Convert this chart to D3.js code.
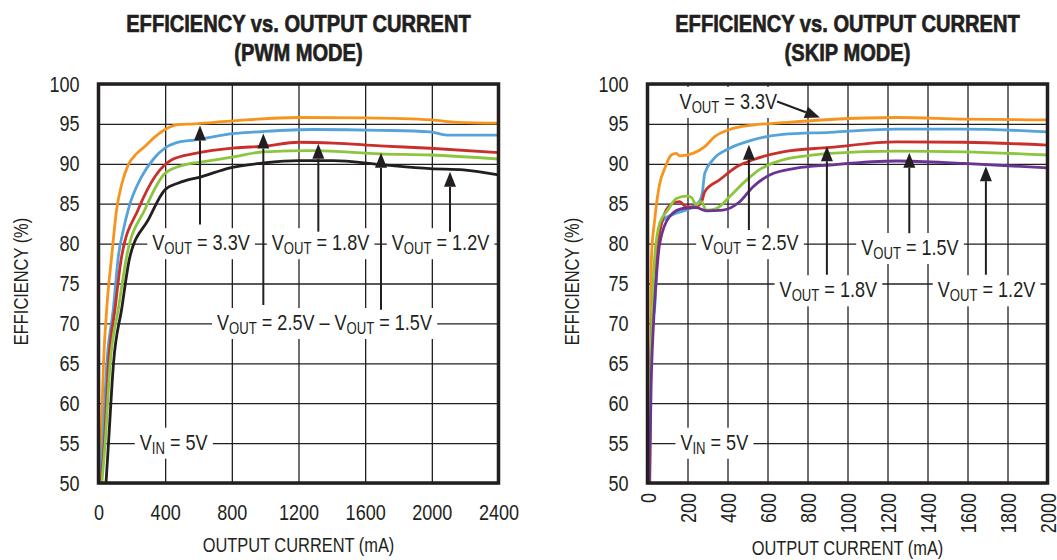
<!DOCTYPE html>
<html>
<head>
<meta charset="utf-8">
<script src="https://cdn.jsdelivr.net/npm/d3@7"></script>
<style>
body{margin:0;background:#fff;}
svg text{font-family:"Liberation Sans",Arial,Helvetica,sans-serif;fill:#231f20;}
.title{font-weight:bold;font-size:24.5px;stroke:#231f20;stroke-width:0.7px;}
.tick text{font-size:22px;}
.axis-title{font-size:20px;}
.tick line{stroke:#231f20;stroke-width:1.3;}
</style>
</head>
<body>
<svg id="chart" width="1057" height="560"></svg>
<script>
// ---- data: [output current mA, efficiency %] ----
var effTicks=[50,55,60,65,70,75,80,85,90,95,100];
var pwmTicks=[0,400,800,1200,1600,2000,2400];
var skipTicks=[0,200,400,600,800,1000,1200,1400,1600,1800,2000];

// PWM mode
var pwm33=[[5,50],[15,55],[30,65],[50,72],[79,78.4],[109,84.3],[140,87.5],[179,89.9],[230,91.3],[279,92.2],[340,93.4],[399,94.3],[477,94.9],[580,95.0],[700,95.2],[890,95.5],[1200,95.8],[1600,95.75],[2000,95.5],[2150,95.2],[2400,95.1]];
var pwm25=[[10,50],[25,55],[50,65],[89,71.8],[119,78.4],[150,81.8],[179,84.3],[259,88.4],[330,90.6],[400,92.0],[460,92.6],[580,93.0],[820,93.8],[990,94.05],[1290,94.3],[1690,94.2],[1990,94.0],[2090,93.6],[2400,93.6]];
var pwm18=[[15,50],[35,55],[60,65],[99,71.8],[139,78.4],[239,84.3],[339,88.4],[440,90.5],[580,91.3],[820,92.0],[990,92.2],[1200,92.7],[1410,92.6],[1690,92.25],[1990,91.95],[2400,91.4]];
var pwm15=[[20,50],[40,55],[70,65],[119,71.8],[169,78.4],[279,84.3],[399,88.8],[520,89.9],[640,90.3],[820,90.9],[990,91.5],[1290,91.65],[1690,91.25],[1990,91.1],[2400,90.6]];
var pwm12=[[45,50],[60,55],[90,65],[139,71.8],[189,78.4],[299,83.0],[399,86.75],[480,87.6],[620,88.4],[790,89.5],[990,90.1],[1200,90.4],[1410,90.4],[1690,89.9],[1990,89.4],[2190,89.25],[2400,88.6]];

// Skip mode
var skip33=[[12,50],[15,60],[17,70],[19,77.9],[36,83.0],[61,87.5],[86,89.4],[119,91.1],[144,91.3],[161,91.0],[227,91.3],[286,92.15],[336,93.4],[411,94.3],[527,94.85],[677,95.15],[912,95.55],[1246,95.8],[1579,95.6],[2000,95.5]];
var skip25=[[8,50],[15,62],[25,70],[36,72],[52,80.0],[78,82.95],[144,83.8],[211,84.4],[260,85.3],[275,86.5],[286,88.8],[327,90.5],[411,91.95],[527,93.0],[677,93.7],[912,93.95],[1246,94.35],[1579,94.35],[2000,94.0]];
var skip18=[[8,50],[14,62],[22,70],[35,76],[52,80.0],[86,83.8],[127,85.05],[161,85.25],[194,84.6],[240,84.6],[270,85.2],[286,86.5],[361,88.0],[444,89.6],[527,90.5],[677,91.5],[912,92.05],[1246,92.75],[1579,92.7],[2000,92.35]];
var skip15=[[8,50],[14,62],[22,70],[35,78],[61,82.55],[102,84.2],[144,85.65],[194,85.95],[219,85.8],[244,84.85],[269,85.25],[294,84.2],[344,84.4],[411,85.9],[477,87.55],[544,89.0],[677,90.5],[912,91.3],[1246,91.6],[1579,91.5],[2000,91.1]];
var skip12=[[10,50],[18,62],[30,70],[45,76],[61,80.0],[111,83.4],[177,84.4],[244,84.5],[294,84.1],[377,84.2],[461,85.25],[527,87.1],[611,88.6],[744,89.45],[912,89.85],[1246,90.35],[1579,90.05],[2000,89.5]];

var colors={v33:"#f7941d",v25:"#56a3d9",v18:"#c9302c",v15:"#8cc63f",v12:"#231f20",v12s:"#6b3394"};

var svg=d3.select("#chart");
var plotW=400, plotH=399, plotTop=84;
var narrow=0.82;   // datasheet uses a condensed face

// squeeze text horizontally to mimic the condensed font
function squeeze(sel){
    sel.each(function(){
        var w=this.getComputedTextLength();
        d3.select(this).attr("textLength",w*narrow).attr("lengthAdjust","spacingAndGlyphs");
    });
}

// white-boxed annotation text, V with subscript
function addLabel(g,cx,cy,parts){
    var lg=g.append("g");
    var t=lg.append("text")
        .attr("x",cx).attr("y",cy)
        .attr("dy","0.3em")
        .attr("text-anchor","middle")
        .style("font-size","22px");
    parts.forEach(function(p){
        t.append("tspan").text("V");
        t.append("tspan").attr("dy",4).style("font-size","16px").text(p[0]);
        t.append("tspan").attr("dy",-4).text(p[1]);
    });
    squeeze(t);
    var bb=t.node().getBBox();
    lg.insert("rect","text")
        .attr("x",bb.x-5).attr("y",bb.y-2)
        .attr("width",bb.width+10).attr("height",bb.height+4)
        .attr("fill","#fff");
}

function addArrow(g,x1,y1,x2,y2){
    var a=Math.atan2(y2-y1,x2-x1), L=15, W=6;
    var bx=x2-L*Math.cos(a), by=y2-L*Math.sin(a);
    g.append("line")
        .attr("x1",x1).attr("y1",y1).attr("x2",bx).attr("y2",by)
        .attr("stroke","#231f20").attr("stroke-width",2);
    g.append("path")
        .attr("d","M"+x2+","+y2+
            "L"+(bx+W*Math.sin(a))+","+(by-W*Math.cos(a))+
            "L"+(bx-W*Math.sin(a))+","+(by+W*Math.cos(a))+"Z")
        .attr("fill","#231f20");
}

function drawChart(opt){
    var g=svg.append("g").attr("transform","translate("+opt.left+","+plotTop+")");

    var x=d3.scaleLinear().domain([0,opt.xMax]).range([0,plotW]);
    var y=d3.scaleLinear().domain([50,100]).range([plotH,0]);

    // titles
    svg.append("text").attr("class","title")
        .attr("x",opt.left+plotW/2).attr("y",32)
        .attr("text-anchor","middle").text("EFFICIENCY vs. OUTPUT CURRENT");
    svg.append("text").attr("class","title")
        .attr("x",opt.left+plotW/2).attr("y",61)
        .attr("text-anchor","middle").text(opt.mode);

    // axes + grid
    var xAxis=g.append("g")
        .attr("transform","translate(0,"+plotH+")")
        .call(d3.axisBottom(x).tickValues(opt.xTicks).tickFormat(d3.format("d"))
            .tickSizeInner(-plotH).tickSizeOuter(0).tickPadding(21));
    xAxis.select(".domain").remove();
    if(opt.rotate){
        xAxis.selectAll("text")
            .attr("transform","rotate(-90)")
            .attr("text-anchor","end")
            .attr("x",-10).attr("y",0).attr("dy","0.36em");
    }
    var yAxis=g.append("g")
        .call(d3.axisLeft(y).tickValues(effTicks).tickFormat(d3.format("d"))
            .tickSizeInner(-plotW).tickSizeOuter(0).tickPadding(19));
    yAxis.select(".domain").remove();

    // axis titles
    g.append("text").attr("class","axis-title")
        .attr("x",plotW/2).attr("y",plotH+opt.xTitleDy)
        .attr("text-anchor","middle").text("OUTPUT CURRENT (mA)");
    g.append("text").attr("class","axis-title")
        .attr("transform","translate("+opt.yTitleX+","+(plotH/2-2)+") rotate(-90)")
        .attr("text-anchor","middle").attr("dy","0.35em").text("EFFICIENCY (%)");

    // annotation labels (under the curves)
    var notes=g.append("g");
    opt.labels.forEach(function(l){
        addLabel(notes,x(l.at[0]),y(l.at[1]),l.parts);
    });

    // curves
    var line=d3.line()
        .x(function(d){return x(d[0]);})
        .y(function(d){return y(d[1]);})
        .curve(d3.curveMonotoneX);
    g.append("g").selectAll("path")
        .data(opt.series)
        .join("path")
        .attr("d",function(s){return line(s.values);})
        .attr("fill","none")
        .attr("stroke",function(s){return s.color;})
        .attr("stroke-width",2.8)
        .attr("stroke-linejoin","round");

    // arrows
    opt.arrows.forEach(function(a){
        addArrow(g,x(a[0]),y(a[1]),x(a[2]),y(a[3]));
    });

    // frame
    g.append("rect")
        .attr("width",plotW).attr("height",plotH)
        .attr("fill","none").attr("stroke","#231f20").attr("stroke-width",3.5);
}

drawChart({
    left:98.5, xMax:2400, xTicks:pwmTicks, rotate:false, mode:"(PWM MODE)",
    xTitleDy:69, yTitleX:-78,
    series:[
        {values:pwm33,color:colors.v33},
        {values:pwm25,color:colors.v25},
        {values:pwm18,color:colors.v18},
        {values:pwm15,color:colors.v15},
        {values:pwm12,color:colors.v12}
    ],
    labels:[
        {at:[615,80],parts:[["OUT"," = 3.3V"]]},
        {at:[1332,80],parts:[["OUT"," = 1.8V"]]},
        {at:[2052,80],parts:[["OUT"," = 1.2V"]]},
        {at:[1356,70],parts:[["OUT"," = 2.5V – "],["OUT"," = 1.5V"]]},
        {at:[451,55],parts:[["IN"," = 5V"]]}
    ],
    arrows:[
        [609,82.4,609,94.8],
        [989,72.3,989,93.8],
        [1319,81.5,1319,92.5],
        [1695,71.7,1695,91.4],
        [2109,81.5,2109,89.0]
    ]
});

drawChart({
    left:647.5, xMax:2000, xTicks:skipTicks, rotate:true, mode:"(SKIP MODE)",
    xTitleDy:72, yTitleX:-76,
    series:[
        {values:skip33,color:colors.v33},
        {values:skip25,color:colors.v25},
        {values:skip18,color:colors.v18},
        {values:skip15,color:colors.v15},
        {values:skip12,color:colors.v12s}
    ],
    labels:[
        {at:[404,97.7],parts:[["OUT"," = 3.3V"]]},
        {at:[512,80],parts:[["OUT"," = 2.5V"]]},
        {at:[1312,79.4],parts:[["OUT"," = 1.5V"]]},
        {at:[904,74.1],parts:[["OUT"," = 1.8V"]]},
        {at:[1695,74.1],parts:[["OUT"," = 1.2V"]]},
        {at:[334,55],parts:[["IN"," = 5V"]]}
    ],
    arrows:[
        [648,97.8,862,95.8],
        [507,81.7,507,92.4],
        [897,76.1,897,92.2],
        [1309,81.3,1309,91.4],
        [1692,76.1,1692,89.7]
    ]
});

// condensed look for every remaining text
squeeze(svg.selectAll("text.title, .tick text, text.axis-title"));
</script>
</body>
</html>
